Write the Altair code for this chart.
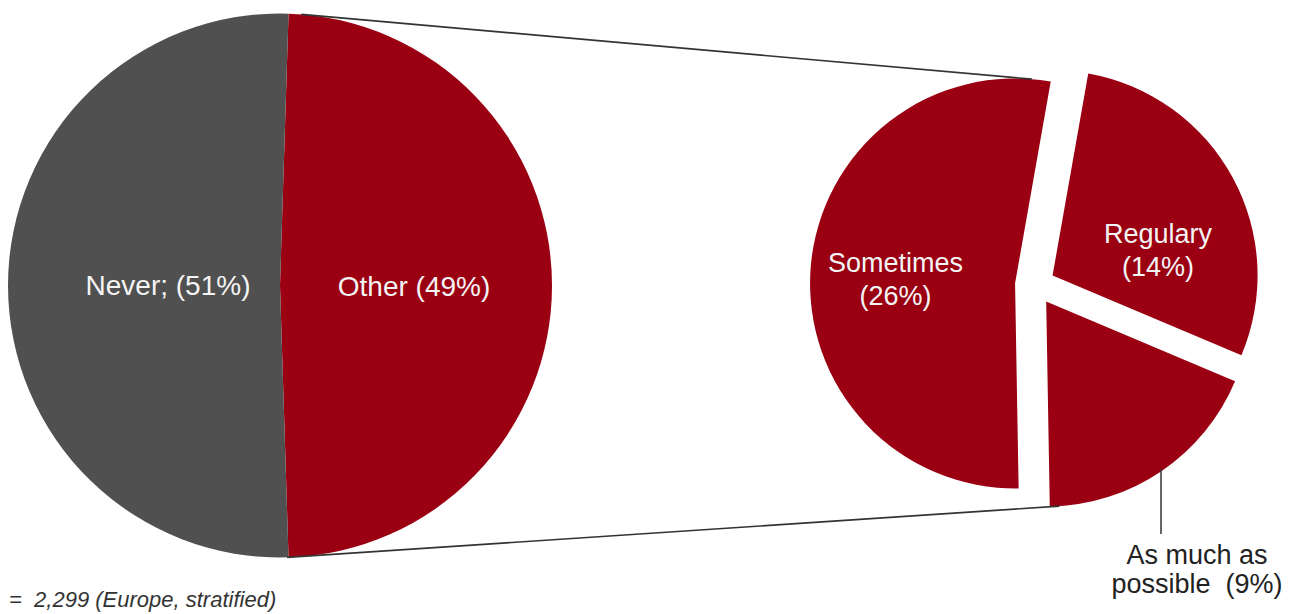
import math
import altair as alt
import pandas as pd

# ---------------- data ----------------
main_cats = ["Other", "Never"]
main_vals = [49, 51]
main_labels = ["Other (49%)", "Never; (51%)"]

sub_cats = ["Sometimes", "Regulary", "As much as possible"]
sub_vals = [26, 14, 9]
sub_labels = ["Sometimes\n(26%)", "Regulary\n(14%)", "As much as\npossible \u00a0(9%)"]

footnote = ["= \u00a02,299 (Europe, stratified)"]

# ---------------- style / layout ----------------
W, H = 1295, 614
RED = "#9a0012"
GRAY = "#505050"
LINE = "#333333"
FONT = "Liberation Sans"
FS = 27

LCX, LCY, LR = 280, 285.5, 272          # left pie
L_START = 1.8                            # degrees
RCX, RCY, RR = 1035, 285, 205            # right (exploded) pie
R_START = 179.0
EXPLODE = 20

df_main = pd.DataFrame({"cat": main_cats, "value": main_vals,
                        "label": main_labels, "order": range(len(main_cats))})
df_sub = pd.DataFrame({"cat": sub_cats, "value": sub_vals,
                       "label": sub_labels, "order": range(len(sub_cats))})


def pie_base(df, start_deg, cx, cy, explode, lab_r):
    s = math.radians(start_deg)
    return (
        alt.Chart(df)
        .transform_joinaggregate(total="sum(value)")
        .transform_window(cum="sum(value)", sort=[alt.SortField("order")], frame=[None, 0])
        .transform_calculate(t1=f"{s} + 2*PI*(datum.cum - datum.value)/datum.total")
        .transform_calculate(t2=f"{s} + 2*PI*datum.cum/datum.total")
        .transform_calculate(mid="(datum.t1 + datum.t2)/2")
        .transform_calculate(cx=f"{cx} + {explode}*sin(datum.mid)")
        .transform_calculate(cy=f"{cy} - {explode}*cos(datum.mid)")
        .transform_calculate(lx=f"datum.cx + {lab_r}*sin(datum.mid)")
        .transform_calculate(ly=f"datum.cy - {lab_r}*cos(datum.mid)")
    )


# left pie
left_base = pie_base(df_main, L_START, LCX, LCY, 0, 122)
left_arc = left_base.mark_arc(radius=LR).encode(
    theta=alt.Theta("t1:Q", scale=None),
    theta2="t2:Q",
    x=alt.X("cx:Q", scale=None),
    y=alt.Y("cy:Q", scale=None),
    color=alt.Color("cat:N", scale=alt.Scale(domain=main_cats, range=[RED, GRAY]), legend=None),
)

# right pie
right_base = pie_base(df_sub, R_START, RCX, RCY, EXPLODE, 120)
right_arc = right_base.mark_arc(radius=RR, color=RED).encode(
    theta=alt.Theta("t1:Q", scale=None),
    theta2="t2:Q",
    x=alt.X("cx:Q", scale=None),
    y=alt.Y("cy:Q", scale=None),
)

layers = [left_arc, right_arc]

# in-slice labels with small nudges (dx, dy, font size)
nudges = {"Other": (12, 2, 28, left_base), "Never": (10, 1, 28, left_base),
          "Sometimes": (0, -10, FS, right_base), "Regulary": (0, 17, FS, right_base)}
for cat, (dx, dy, fs, base) in nudges.items():
    layers.append(
        base.transform_filter(alt.datum.cat == cat)
        .mark_text(font=FONT, fontSize=fs, color="#f4f4f4", align="center",
                   baseline="middle", lineBreak="\n", lineHeight=33, dx=dx, dy=dy)
        .encode(x=alt.X("lx:Q", scale=None), y=alt.Y("ly:Q", scale=None), text="label:N")
    )

# leader line + outside label for the smallest slice
amap = (right_base.transform_filter(alt.datum.cat == "As much as possible")
        .transform_calculate(px=f"datum.cx + {RR}*sin(datum.mid)")
        .transform_calculate(py=f"datum.cy - {RR - 3}*cos(datum.mid)")
        .transform_calculate(py2="datum.py + 65"))
layers.append(
    amap.mark_rule(color=LINE, strokeWidth=1.5).encode(
        x=alt.X("px:Q", scale=None), y=alt.Y("py:Q", scale=None), y2="py2:Q")
)
layers.append(
    amap.mark_text(font=FONT, fontSize=FS, color="#222222", align="center",
                   baseline="top", lineBreak="\n", lineHeight=29, dx=36, dy=9)
    .encode(x=alt.X("px:Q", scale=None), y=alt.Y("py2:Q", scale=None), text="label:N")
)


# connector lines between the pies
def on_circle(cx, cy, r, deg):
    a = math.radians(deg)
    return cx + r * math.sin(a), cy - r * math.cos(a)


def sub_vertex(mid_deg):
    return on_circle(RCX, RCY, EXPLODE, mid_deg)


tot = sum(sub_vals)
a0 = R_START
mids = []
for v in sub_vals:
    a1 = a0 + 360 * v / tot
    mids.append((a0 + a1) / 2)
    a0 = a1
vs = sub_vertex(mids[0])
va = sub_vertex(mids[2])
p1 = on_circle(LCX, LCY, LR, 4.5)
p2 = on_circle(vs[0], vs[1], RR, 4.7)
p3 = on_circle(LCX, LCY, LR, 178.5)
p4 = on_circle(va[0], va[1], RR, 176.3)
conn = pd.DataFrame({"x": [p1[0], p3[0]], "y": [p1[1], p3[1]],
                     "x2": [p2[0], p4[0]], "y2": [p2[1], p4[1]]})
layers.append(
    alt.Chart(conn).mark_rule(color=LINE, strokeWidth=1.6).encode(
        x=alt.X("x:Q", scale=None), y=alt.Y("y:Q", scale=None),
        x2="x2:Q", y2="y2:Q")
)

# footnote
layers.append(
    alt.Chart(pd.DataFrame({"t": footnote})).mark_text(
        font=FONT, fontSize=22, fontStyle="italic", color="#333333",
        align="left", baseline="middle")
    .encode(x=alt.value(9), y=alt.value(600), text="t:N")
)

chart = (
    alt.layer(*layers)
    .properties(width=W, height=H, autosize=alt.AutoSizeParams(type="none"), padding=0)
    .configure_view(stroke=None)
)

chart.save("out.html", embed_options={"renderer": "svg", "actions": False})
